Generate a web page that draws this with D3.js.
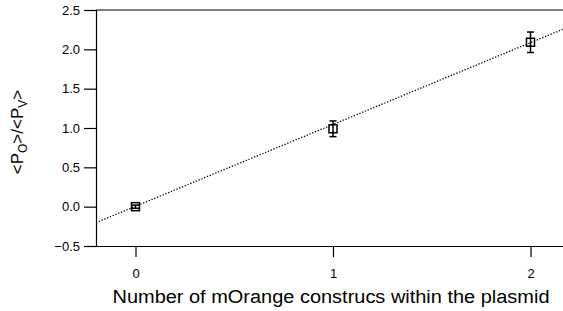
<!DOCTYPE html>
<html>
<head>
<meta charset="utf-8">
<script src="https://cdn.jsdelivr.net/npm/d3@7"></script>
<style>
html,body{margin:0;padding:0;background:#fff;}
svg{display:block;font-family:"Liberation Sans",Arial,sans-serif;}
</style>
</head>
<body>
<svg id="chart" width="563" height="311"></svg>
<script>
const constructs = [0, 1, 2];
const ratio = [0.0, 0.99, 2.09];
const ratioErr = [0.02, 0.10, 0.13];
const fitSlope = 1.04;
const fitIntercept = 0.005;
const yTicks = [-0.5, 0.0, 0.5, 1.0, 1.5, 2.0, 2.5];
const xTicks = [0, 1, 2];

const svg = d3.select("#chart");
const x = d3.scaleLinear().domain([-0.2, 2.2]).range([96, 570]);
const y = d3.scaleLinear().domain([-0.5, 2.5]).range([246, 10]);

svg.append("clipPath").attr("id","clip").append("rect")
  .attr("x", 96).attr("y", 10).attr("width", 480).attr("height", 236);

svg.append("line").attr("x1",96).attr("x2",570).attr("y1",y(2.5)).attr("y2",y(2.5))
  .attr("stroke","#000").attr("stroke-width",1.2);

const yAxis = svg.append("g").attr("transform","translate(96,0)")
  .call(d3.axisLeft(y).tickValues(yTicks).tickFormat(d3.format(".1f")).tickSize(12).tickPadding(4));
yAxis.select(".domain").attr("stroke-width",1.2);
yAxis.selectAll(".tick line").attr("stroke-width",1.2);
yAxis.selectAll("text").attr("font-size",13).attr("fill","#000")
  .attr("font-family","Liberation Sans, Arial, sans-serif");

const xAxis = svg.append("g").attr("transform","translate(0,246)")
  .call(d3.axisBottom(x).tickValues(xTicks).tickFormat(d3.format("d")).tickSize(11).tickPadding(12).tickSizeOuter(0));
xAxis.select(".domain").attr("stroke-width",1.2);
xAxis.selectAll(".tick line").attr("stroke-width",1.2);
xAxis.selectAll("text").attr("font-size",13).attr("fill","#000")
  .attr("font-family","Liberation Sans, Arial, sans-serif");

svg.append("line").attr("clip-path","url(#clip)")
  .attr("x1", x(-0.2)).attr("y1", y(fitSlope*-0.2 + fitIntercept))
  .attr("x2", x(2.2)).attr("y2", y(fitSlope*2.2 + fitIntercept))
  .attr("stroke","#000").attr("stroke-width",1.3).attr("stroke-dasharray","1.3,1.7");

const pts = constructs.map((c,i)=>({c, v: ratio[i], e: ratioErr[i]}));
const eb = svg.append("g");
pts.forEach(p=>{
  const cx = x(p.c);
  eb.append("line").attr("x1",cx).attr("x2",cx).attr("y1",y(p.v+p.e)).attr("y2",y(p.v-p.e))
    .attr("stroke","#000").attr("stroke-width",1.5);
  [p.v+p.e, p.v-p.e].forEach(v=>{
    eb.append("line").attr("x1",cx-3.5).attr("x2",cx+3.5).attr("y1",y(v)).attr("y2",y(v))
      .attr("stroke","#000").attr("stroke-width",1.5);
  });
});
svg.append("g").selectAll("rect").data(pts).join("rect")
  .attr("x", d=>x(d.c)-4).attr("y", d=>y(d.v)-4).attr("width",8).attr("height",8)
  .attr("fill","none").attr("stroke","#000").attr("stroke-width",1.5);

svg.append("text").attr("x", 331).attr("y", 303).attr("text-anchor","middle")
  .attr("font-size",18).attr("fill","#000")
  .attr("textLength",437).attr("lengthAdjust","spacingAndGlyphs")
  .text("Number of mOrange construcs within the plasmid");

const yt = svg.append("text").attr("transform","translate(23,132) rotate(-90)")
  .attr("text-anchor","middle").attr("font-size",17).attr("fill","#000");
yt.append("tspan").text("<P");
yt.append("tspan").attr("font-size",12).attr("dy",4).text("O");
yt.append("tspan").attr("dy",-4).text(">/<P");
yt.append("tspan").attr("font-size",12).attr("dy",4).text("V");
yt.append("tspan").attr("dy",-4).text(">");
</script>
</body>
</html>
